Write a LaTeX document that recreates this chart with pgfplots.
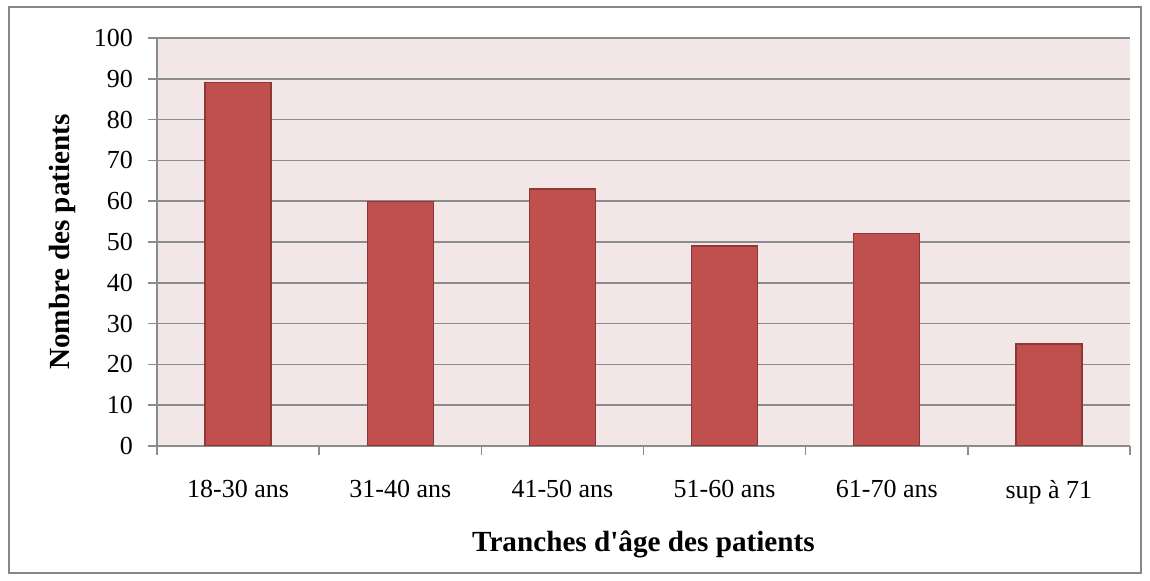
\documentclass[border=0pt]{standalone}
\usepackage{fontspec}
\setmainfont{Liberation Serif}[Ligatures=TeXOff]
\usepackage{pgfplots}
\pgfplotsset{compat=1.18}

\definecolor{plotbg}{RGB}{242,230,230}
\definecolor{barfill}{RGB}{192,80,77}
\definecolor{baredge}{RGB}{140,56,54}
\definecolor{gridgray}{RGB}{140,140,140}
\definecolor{framegray}{RGB}{134,134,134}

\begin{document}
\begin{tikzpicture}[x=1pt,y=1pt]
  \path[use as bounding box] (0,0) rectangle (575,290.5);
  \draw[framegray, line width=0.8pt] (4.5,4) rectangle (570.5,287);
  \begin{axis}[
    at={(78.5pt,67.5pt)}, anchor=south west,
    scale only axis, width=486.5pt, height=204pt,
    xmin=-0.5, xmax=5.5, ymin=0, ymax=100,
    ytick={0,10,...,100},
    xtick={0,...,5},
    xticklabels={18-30 ans,31-40 ans,41-50 ans,51-60 ans,61-70 ans,sup à 71},
    minor xtick={-0.5,0.5,...,5.5},
    axis x line*=bottom, axis y line*=left,
    axis line style={gridgray, line width=0.75pt, -},
    axis background/.style={fill=plotbg},
    ymajorgrids, major grid style={gridgray, line width=0.75pt},
    tick align=outside,
    major x tick style={draw=none},
    minor x tick style={gridgray, line width=0.75pt},
    minor tick length=4.5pt,
    ytick style={gridgray, line width=0.75pt},
    major tick length=4.5pt,
    tick label style={font=\fontsize{13}{15}\selectfont, black},
    /pgf/number format/assume math mode=true,
    yticklabel style={xshift=-4pt},
    xticklabel style={yshift=-9pt},
    xlabel={\textbf{Tranches d'âge des patients}},
    ylabel={\textbf{Nombre des patients}},
    label style={font=\fontsize{14.6}{16}\selectfont},
    xlabel style={yshift=-7pt},
    ylabel style={yshift=2pt},
    ybar, bar width=33pt,
  ]
  \addplot[fill=barfill, draw=baredge, line width=0.6pt]
    coordinates {(0,89) (1,60) (2,63) (3,49) (4,52) (5,25)};
  \end{axis}
\end{tikzpicture}
\end{document}
